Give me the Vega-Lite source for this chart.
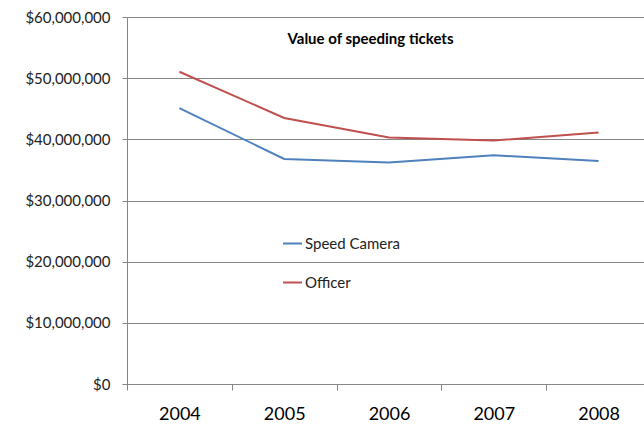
{
  "$schema": "https://vega.github.io/schema/vega-lite/v6.json",
  "width": 517,
  "height": 367,
  "autosize": {"type": "none"},
  "padding": {"left": 127, "top": 17, "right": 0, "bottom": 51},
  "background": "white",
  "title": {
    "text": "Value of speeding tickets",
    "orient": "top",
    "anchor": "middle",
    "offset": -49,
    "baseline": "alphabetic",
    "dx": -15,
    "font": "Lato",
    "fontSize": 15,
    "fontWeight": "bold",
    "color": "#000000"
  },
  "config": {
    "view": {"stroke": null},
    "font": "Lato"
  },
  "data": {
    "values": [
      {"year": "2004", "series": "Speed Camera", "value": 45100000},
      {"year": "2005", "series": "Speed Camera", "value": 36800000},
      {"year": "2006", "series": "Speed Camera", "value": 36200000},
      {"year": "2007", "series": "Speed Camera", "value": 37400000},
      {"year": "2008", "series": "Speed Camera", "value": 36450000},
      {"year": "2004", "series": "Officer", "value": 51050000},
      {"year": "2005", "series": "Officer", "value": 43500000},
      {"year": "2006", "series": "Officer", "value": 40300000},
      {"year": "2007", "series": "Officer", "value": 39800000},
      {"year": "2008", "series": "Officer", "value": 41100000}
    ]
  },
  "mark": {"type": "line", "strokeWidth": 2},
  "encoding": {
    "x": {
      "field": "year",
      "type": "ordinal",
      "bandPosition": 0.5,
      "scale": {"type": "band", "paddingInner": 0, "paddingOuter": 0, "range": [0, 524]},
      "axis": {
        "title": null,
        "labelAngle": 0,
        "grid": false,
        "tickBand": "extent",
        "tickSize": 6,
        "tickColor": "#868686",
        "domainColor": "#868686",
        "labelFont": "Lato",
        "labelFontSize": 18,
        "labelColor": "#000000",
        "labelPadding": 15
      }
    },
    "y": {
      "field": "value",
      "type": "quantitative",
      "scale": {"domain": [0, 60000000], "nice": false},
      "axis": {
        "title": null,
        "values": [0, 10000000, 20000000, 30000000, 40000000, 50000000, 60000000],
        "format": "$,.0f",
        "grid": true,
        "gridColor": "#868686",
        "gridWidth": 1,
        "tickSize": 5,
        "tickColor": "#868686",
        "domainColor": "#868686",
        "labelFont": "Lato",
        "labelFontSize": 15,
        "labelColor": "#222222",
        "labelPadding": 12
      }
    },
    "color": {
      "field": "series",
      "type": "nominal",
      "sort": ["Speed Camera", "Officer"],
      "scale": {"domain": ["Speed Camera", "Officer"], "range": ["#4F81BD", "#C0504D"]},
      "legend": {
        "title": null,
        "orient": "none",
        "legendX": 155,
        "legendY": 216,
        "symbolType": "stroke",
        "symbolSize": 361,
        "symbolStrokeWidth": 2,
        "rowPadding": 20,
        "labelOffset": 2,
        "labelFont": "Lato",
        "labelFontSize": 15,
        "labelColor": "#222222"
      }
    }
  }
}
